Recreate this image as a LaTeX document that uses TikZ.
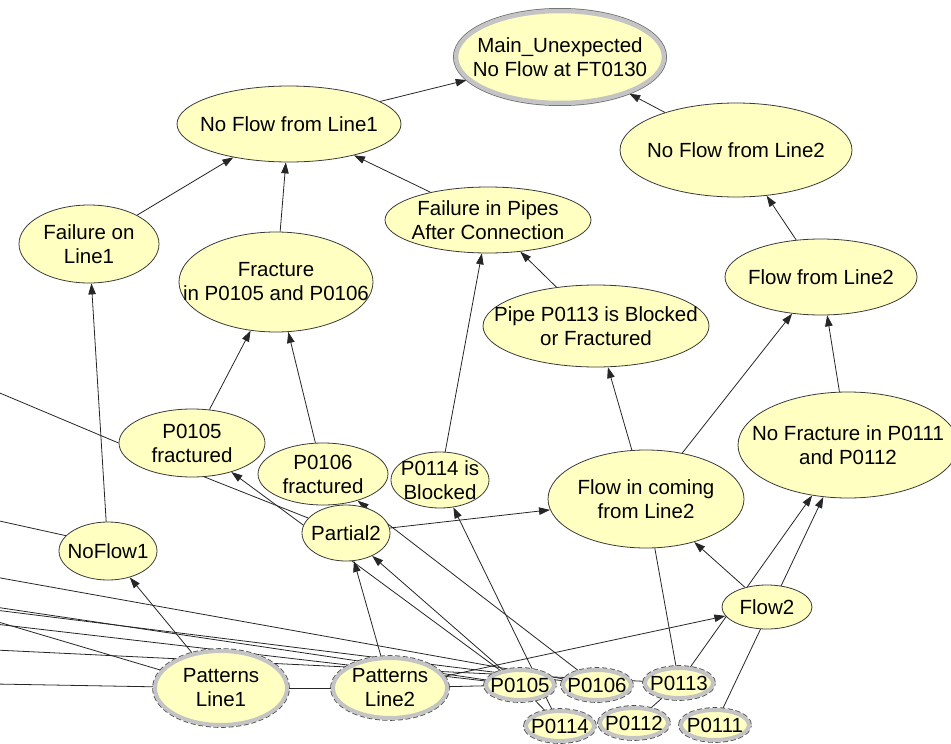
\documentclass[tikz,border=0pt]{standalone}
\usepackage{fontspec}
\setmainfont{Liberation Sans}
\usepackage{xcolor}
\usepackage{tikz}
\usetikzlibrary{arrows.meta,shapes.geometric,backgrounds}
\definecolor{nodefill}{HTML}{FFFFC2}
\definecolor{nodeline}{HTML}{3A3A3A}
\definecolor{ring}{HTML}{C4C4C4}
\definecolor{dashline}{HTML}{505050}
\definecolor{link}{HTML}{262626}

\begin{document}
\begin{tikzpicture}[x=1pt,y=-1pt,
  font=\fontsize{20.5}{24}\selectfont,
  var/.style={ellipse,draw=nodeline,line width=.8pt,fill=nodefill,
              inner xsep=-30pt,inner ysep=-12pt,align=center},
  obs/.style={var,draw=ring,line width=4pt,
              preaction={draw=dashline,line width=5.6pt,dash pattern=on 5pt off 2.5pt}},
  goal/.style={var,draw=ring,line width=4.5pt,
               preaction={draw=nodeline!75,line width=6pt}},
  pipe/.style={obs,minimum width=68,minimum height=30},
  arr/.style={-{Triangle[length=11pt,width=7.5pt]},draw=link,line width=.8pt},
  ln/.style={draw=link,line width=.8pt}
]
\useasboundingbox (0,0) rectangle (951,744);

\node[goal,minimum width=208,minimum height=92] (main) at (560,57) {Main\_Unexpected\\No Flow at FT0130};
\node[var,minimum width=224,minimum height=76] (nf1) at (289,124) {No Flow from Line1};
\node[var,minimum width=232,minimum height=94] (nf2) at (736,150) {No Flow from Line2};
\node[var,minimum width=140,minimum height=78] (fail1) at (89,244) {Failure on\\Line1};
\node[var,minimum width=194,minimum height=100] (frac) at (276,282) {Fracture\\in P0105 and P0106};
\node[var,minimum width=206,minimum height=66] (pipes) at (488,220) {Failure in Pipes\\After Connection};
\node[var,minimum width=192,minimum height=76] (fromL2) at (821,277) {Flow from Line2};
\node[var,minimum width=226,minimum height=82] (pipe113) at (596,326) {Pipe P0113 is Blocked\\or Fractured};
\node[var,minimum width=146,minimum height=68] (frac105) at (192,443) {P0105\\fractured};
\node[var,minimum width=130,minimum height=62] (frac106) at (323,474) {P0106\\fractured};
\node[var,minimum width=98,minimum height=56] (blk114) at (440,480) {P0114 is\\Blocked};
\node[var,minimum width=196,minimum height=98] (incoming) at (646,499) {Flow in coming\\from Line2};
\node[var,minimum width=220,minimum height=106] (nofrac) at (848,445) {No Fracture in P0111\\and P0112};
\node[var,minimum width=98,minimum height=58] (noflow1) at (108,551) {NoFlow1};
\node[var,minimum width=88,minimum height=56] (partial2) at (346,533) {Partial2};
\node[var,minimum width=90,minimum height=44] (flow2) at (767,607) {Flow2};
\node[obs,minimum width=132,minimum height=74] (pat1) at (221,688) {Patterns\\Line1};
\node[obs,minimum width=114,minimum height=60] (pat2) at (390,688) {Patterns\\Line2};
\foreach \n/\x/\y in {0105/520/685,0106/597/685,0113/679/683,0114/560/726,0112/634/723,0111/715/725}
  \node[pipe] (p\n) at (\x,\y) {P\n};

\foreach \i/\y in {1/391,2/520,3/577,4/607,5/610,6/621,7/624,8/650,9/684}
  \coordinate (w\i) at (-5,\y);

\begin{scope}[on background layer]
\foreach \a/\b in {nf1/main,nf2/main,fail1/nf1,frac/nf1,pipes/nf1,fromL2/nf2,
                   pipe113/pipes,blk114/pipes,noflow1/fail1,frac105/frac,frac106/frac,
                   incoming/pipe113,incoming/fromL2,nofrac/fromL2,partial2/incoming,
                   flow2/incoming,pat1/noflow1,pat2/partial2,pat2/flow2,p0105/partial2,
                   p0105/frac105,p0106/frac106,p0114/blk114,p0113/nofrac,p0111/nofrac}
  \draw[arr] (\a) -- (\b);
\draw[ln] (frac105.290) -- (partial2);
\draw[ln] (p0113) -- (incoming);
\draw[ln] (pat1) -- (pat2);
\draw[ln] (pat2) -- (p0105);
\draw[ln] (p0105) -- (p0114);
\draw[ln] (p0112) -- (p0113);
\draw[ln] (w1) -- (frac105.west);
\draw[ln] (w2) -- (noflow1.160);
\foreach \w/\b in {w3/p0106,w4/p0105,w5/p0106,w6/pat1,w7/p0105,w8/p0113,w9/pat1}
  \draw[ln] (\w) -- (\b);
\end{scope}
\end{tikzpicture}
\end{document}
